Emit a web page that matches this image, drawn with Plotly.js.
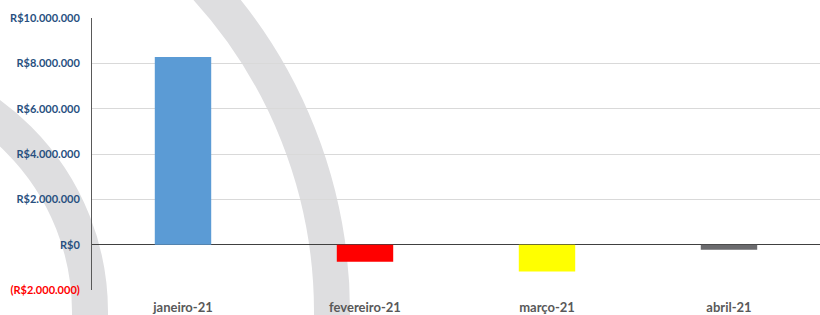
<!DOCTYPE html>
<html>
<head>
<meta charset="utf-8">
<script src="https://cdn.plot.ly/plotly-3.0.1.min.js"></script>
<style>html,body{margin:0;padding:0;background:#fff}#chart{width:820px;height:315px}</style>
</head>
<body>
<div id="chart"></div>
<script>
const categories = ["janeiro-21", "fevereiro-21", "março-21", "abril-21"];
const values = [8280000, -750000, -1180000, -220000];
const barColors = ["#5b9bd5", "#ff0000", "#ffff00", "#6b6b6e"];
const tickValues = [-2000000, 0, 2000000, 4000000, 6000000, 8000000, 10000000];
const tickLabels = ["<span style='color:#ff0000'>(R$2.000.000)</span>", "R$0", "R$2.000.000", "R$4.000.000", "R$6.000.000", "R$8.000.000", "R$10.000.000"];

// watermark rings (pixel geometry converted to paper coords)
const L = 92, T = 18, W = 728, H = 272;
function ring(cx, cy, r, w) {
  return {
    type: "circle", xref: "paper", yref: "paper", layer: "below",
    x0: (cx - r - L) / W, x1: (cx + r - L) / W,
    y0: (T + H - cy - r) / H, y1: (T + H - cy + r) / H,
    line: { color: "#dedee0", width: w }, fillcolor: "rgba(0,0,0,0)"
  };
}

const trace = {
  type: "bar", x: categories, y: values,
  marker: { color: barColors, line: { width: 0 } },
  hoverinfo: "skip"
};

const layout = {
  width: 820, height: 315,
  margin: { l: L, r: 0, t: T, b: 315 - T - H },
  paper_bgcolor: "#ffffff", plot_bgcolor: "rgba(0,0,0,0)",
  showlegend: false, bargap: 0.69,
  font: { family: "Lato, 'Open Sans', sans-serif" },
  shapes: [ring(-150, 312, 482, 36), ring(-154, 312, 244, 36)],
  xaxis: {
    showgrid: false, showline: false, zeroline: false, ticks: "",
    tickfont: { size: 13, color: "#595959", weight: "bold" },
    ticklabelstandoff: 8, fixedrange: true
  },
  yaxis: {
    range: [-2000000, 10000000], tickvals: tickValues, ticktext: tickLabels,
    showgrid: true, gridcolor: "#d9d9d9", gridwidth: 1,
    zeroline: true, zerolinecolor: "#404040", zerolinewidth: 1,
    showline: true, linecolor: "#595959", linewidth: 1, ticks: "",
    tickfont: { size: 11, color: "#28507f", weight: "bold" },
    ticklabelstandoff: 9, fixedrange: true
  }
};

Plotly.newPlot("chart", [trace], layout, { displayModeBar: false, staticPlot: true });
</script>
</body>
</html>
